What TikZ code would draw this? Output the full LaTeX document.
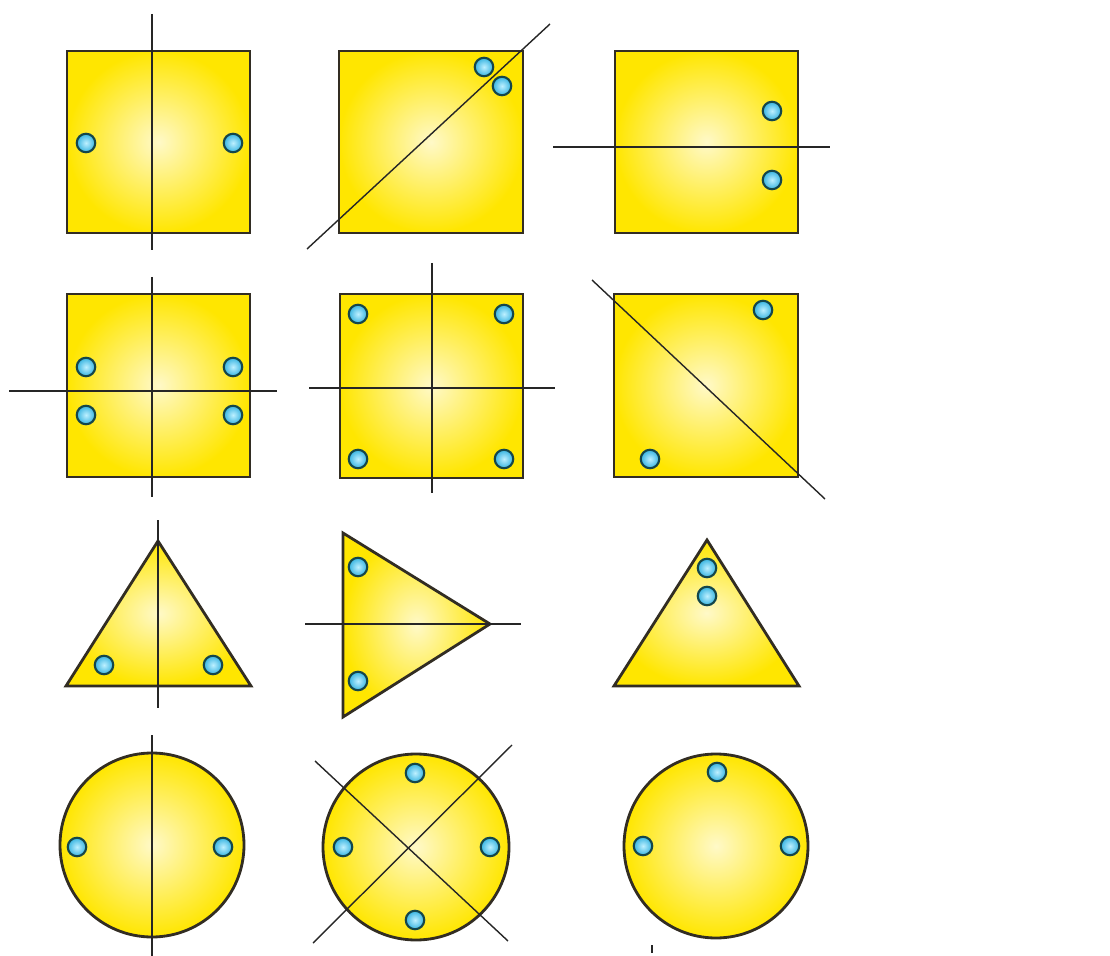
\documentclass[tikz,border=0pt]{standalone}
\usepackage{tikz}
\definecolor{deepyellow}{RGB}{255,230,0}
\definecolor{paleyellow}{RGB}{255,249,200}
\definecolor{edgegray}{RGB}{50,45,35}
\definecolor{beadblue}{RGB}{55,180,225}
\definecolor{beadlight}{RGB}{190,240,255}
\definecolor{beadedge}{RGB}{20,70,75}

\begin{document}
\begin{tikzpicture}[
        x=0.02cm, y=-0.02cm,
        shapebox/.style={draw=edgegray, line width=1.6pt, shading=radial, inner color=paleyellow, outer color=deepyellow},
        symline/.style={draw=black!85, line width=0.8pt},
        bead/.style={circle, draw=beadedge, line width=1.2pt, shading=radial, inner color=beadlight, outer color=beadblue, minimum size=0.37cm, inner sep=0pt}
    ]
        \useasboundingbox (0,0) rectangle (1110,956);

        % Row 1: squares
        \draw[shapebox] (67,51) rectangle (250,233);
        \draw[symline] (152,14) -- (152,250);
        \node[bead] (sqa1) at (86,143) {};
        \node[bead] (sqa2) at (233,143) {};

        \draw[shapebox] (339,51) rectangle (523,233);
        \draw[symline] (307,249) -- (550,24);
        \node[bead] (sqb1) at (484,67) {};
        \node[bead] (sqb2) at (502,86) {};

        \draw[shapebox] (615,51) rectangle (798,233);
        \draw[symline] (553,147) -- (830,147);
        \node[bead] (sqc1) at (772,111) {};
        \node[bead] (sqc2) at (772,180) {};

        % Row 2: squares
        \draw[shapebox] (67,294) rectangle (250,477);
        \draw[symline] (152,277) -- (152,497);
        \draw[symline] (9,391) -- (277,391);
        \node[bead] (sqd1) at (86,367) {};
        \node[bead] (sqd2) at (233,367) {};
        \node[bead] (sqd3) at (86,415) {};
        \node[bead] (sqd4) at (233,415) {};

        \draw[shapebox] (340,294) rectangle (523,478);
        \draw[symline] (432,263) -- (432,493);
        \draw[symline] (309,388) -- (555,388);
        \node[bead] (sqe1) at (358,314) {};
        \node[bead] (sqe2) at (504,314) {};
        \node[bead] (sqe3) at (358,459) {};
        \node[bead] (sqe4) at (504,459) {};

        \draw[shapebox] (614,294) rectangle (798,477);
        \draw[symline] (592,280) -- (825,499);
        \node[bead] (sqf1) at (763,310) {};
        \node[bead] (sqf2) at (650,459) {};

        % Row 3: triangles
        \draw[shapebox] (158,541) -- (251,686) -- (66,686) -- cycle;
        \draw[symline] (158,520) -- (158,708);
        \node[bead] (tra1) at (104,665) {};
        \node[bead] (tra2) at (213,665) {};

        \draw[shapebox] (343,533) -- (490,624) -- (343,717) -- cycle;
        \draw[symline] (305,624) -- (521,624);
        \node[bead] (trb1) at (358,567) {};
        \node[bead] (trb2) at (358,681) {};

        \draw[shapebox] (707,540) -- (799,686) -- (614,686) -- cycle;
        \node[bead] (trc1) at (707,568) {};
        \node[bead] (trc2) at (707,596) {};

        % Row 4: circles
        \draw[shapebox] (152,845) circle (92);
        \draw[symline] (152,735) -- (152,956);
        \node[bead] (cia1) at (77,847) {};
        \node[bead] (cia2) at (223,847) {};

        \draw[shapebox] (416,847) circle (93);
        \draw[symline] (315,761) -- (508,941);
        \draw[symline] (512,745) -- (313,943);
        \node[bead] (cib1) at (415,773) {};
        \node[bead] (cib2) at (343,847) {};
        \node[bead] (cib3) at (490,847) {};
        \node[bead] (cib4) at (415,920) {};

        \draw[shapebox] (716,846) circle (92);
        \node[bead] (cic1) at (717,772) {};
        \node[bead] (cic2) at (643,846) {};
        \node[bead] (cic3) at (790,846) {};
        \draw[symline] (652,945) -- (652,953);
    \end{tikzpicture}
\end{document}
